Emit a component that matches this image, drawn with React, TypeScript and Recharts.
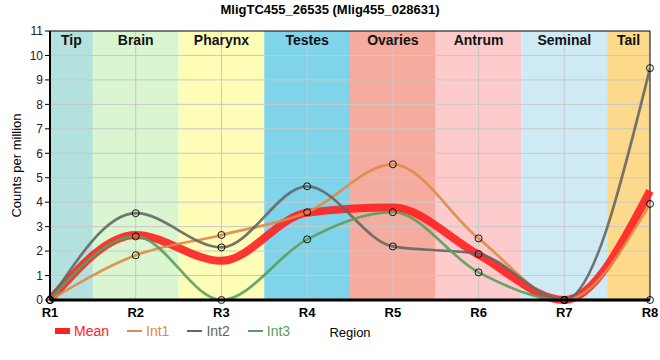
import {
  LineChart,
  Line,
  XAxis,
  YAxis,
  ReferenceArea,
  ReferenceLine
} from 'recharts'

const regions = ['R1', 'R2', 'R3', 'R4', 'R5', 'R6', 'R7', 'R8']
const tissues = ['Tip', 'Brain', 'Pharynx', 'Testes', 'Ovaries', 'Antrum', 'Seminal', 'Tail']
const tissueColors = ['#b3e2de', '#d9f6d0', '#fdfdb8', '#7fd4ea', '#f5ab9e', '#fdcbcb', '#ceebf5', '#fdd98b']

const meanValues = [0, 2.66, 1.6, 3.57, 3.78, 1.85, 0, 4.46]
const int1Values = [0, 1.83, 2.66, 3.59, 5.55, 2.52, 0, 3.93]
const int2Values = [0, 3.55, 2.15, 4.65, 2.19, 1.88, 0, 9.48]
const int3Values = [0, 2.6, 0, 2.48, 3.59, 1.13, 0, 0]
const yTicks = [0, 1, 2, 3, 4, 5, 6, 7, 8, 9, 10, 11]

const series = [
  { key: 'mean', name: 'Mean', color: '#ff2020', width: 8, opacity: 0.9 },
  { key: 'int1', name: 'Int1', color: '#e08a48', width: 2.7, opacity: 0.9 },
  { key: 'int2', name: 'Int2', color: '#666666', width: 2.7, opacity: 0.9 },
  { key: 'int3', name: 'Int3', color: '#5a9e5c', width: 2.7, opacity: 0.9 }
]

const data = regions.map((r, i) => ({
  x: i,
  region: r,
  mean: meanValues[i],
  int1: int1Values[i],
  int2: int2Values[i],
  int3: int3Values[i]
}))

const lastIdx = regions.length - 1
const gridColor = '#c8c8c8'

export default function App() {
  return (
    <div style={{ position: 'fixed', left: 0, top: 0, width: 660, height: 360, background: '#fff', fontFamily: 'Liberation Sans, Arial, sans-serif' }}>
      <div style={{ position: 'absolute', top: 2, left: 0, width: 660, textAlign: 'center', fontSize: 13, fontWeight: 'bold', color: '#000' }}>
        MligTC455_26535 (Mlig455_028631)
      </div>
      <LineChart width={660} height={360} data={data} margin={{ top: 31, right: 10, bottom: 20, left: 0 }}>
        {tissues.map((t, i) => (
          <ReferenceArea
            key={t}
            x1={Math.max(0, i - 0.5)}
            x2={Math.min(lastIdx, i + 0.5)}
            y1={0}
            y2={11}
            fill={tissueColors[i]}
            fillOpacity={1}
            stroke="none"
            label={{ value: t, position: 'insideTop', fontSize: 14, fontWeight: 'bold', fill: '#111', offset: 4 }}
          />
        ))}
        {/* grid drawn as reference lines so it sits over the tissue bands */}
        {yTicks.slice(1, -1).map(v => (
          <ReferenceLine key={'gy' + v} y={v} stroke={gridColor} strokeWidth={1} />
        ))}
        {regions.slice(1, -1).map((r, i) => (
          <ReferenceLine key={'gx' + r} x={i + 1} stroke={gridColor} strokeWidth={1} />
        ))}
        <XAxis
          type="number"
          dataKey="x"
          domain={[0, lastIdx]}
          ticks={regions.map((_, i) => i)}
          tickFormatter={(v) => regions[v]}
          tick={{ fontSize: 13, fontWeight: 'bold', fill: '#000' }}
          tickLine={false}
          axisLine={{ stroke: '#000', strokeWidth: 3 }}
          height={40}
          label={{ value: 'Region', position: 'insideBottom', offset: 3, fontSize: 13, fill: '#000' }}
        />
        <YAxis
          domain={[0, 11]}
          ticks={yTicks}
          width={50}
          tick={{ fontSize: 12, fill: '#222' }}
          tickLine={{ stroke: '#000' }}
          tickSize={5}
          axisLine={{ stroke: '#000', strokeWidth: 2 }}
          label={{ value: 'Counts per million', angle: -90, position: 'insideLeft', offset: 16, fontSize: 13, fill: '#000', style: { textAnchor: 'middle' } }}
        />
        <ReferenceLine y={11} stroke="#000" strokeWidth={1} />
        <ReferenceLine x={lastIdx} stroke="#000" strokeWidth={1} />
        {series.map(s => (
          <Line
            key={s.key}
            type="monotone"
            dataKey={s.key}
            name={s.name}
            stroke={s.color}
            strokeWidth={s.width}
            strokeOpacity={s.opacity}
            dot={s.key === 'mean' ? false : { r: 3.5, stroke: '#000', strokeWidth: 1, fill: 'none' }}
            isAnimationActive={false}
          />
        ))}
      </LineChart>
      <div style={{ position: 'absolute', top: 323, left: 55, display: 'flex', alignItems: 'center', fontSize: 14 }}>
        {series.map(s => (
          <div key={s.key} style={{ display: 'flex', alignItems: 'center', marginRight: 18 }}>
            <div style={{ width: 15, height: s.key === 'mean' ? 6 : 2.5, background: s.color, marginRight: 4 }} />
            <span style={{ color: s.color }}>{s.name}</span>
          </div>
        ))}
      </div>
    </div>
  )
}
